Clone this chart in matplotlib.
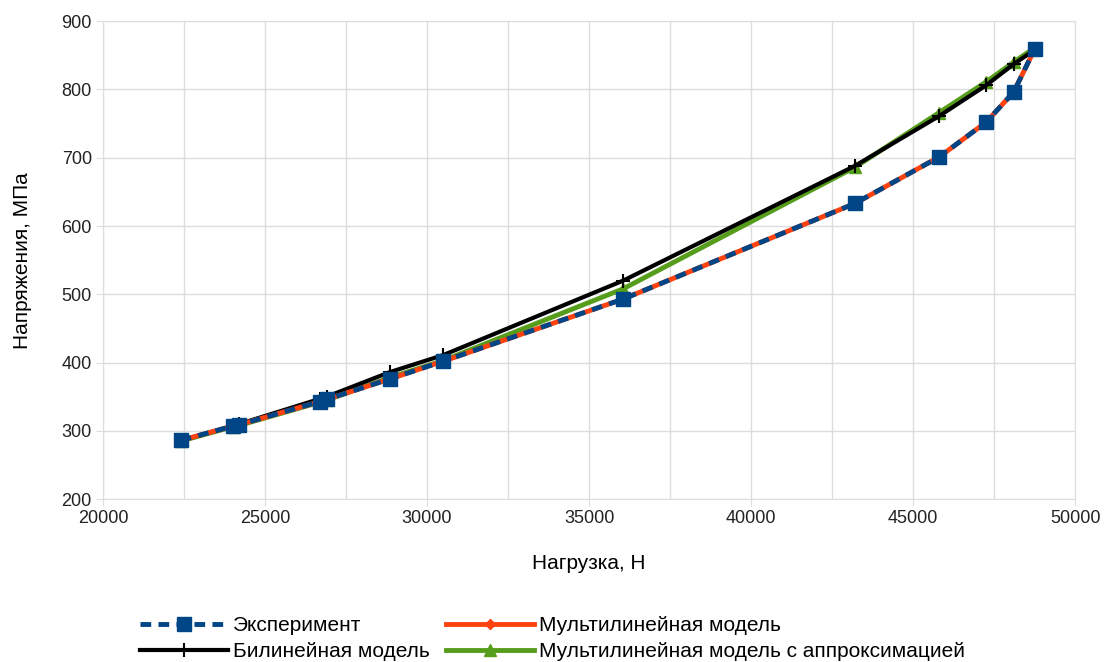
import matplotlib
matplotlib.use("Agg")
import matplotlib.pyplot as plt
from matplotlib.ticker import MultipleLocator

plt.rcParams['font.family'] = ['Liberation Sans', 'DejaVu Sans']

# нагрузка, Н
load = [22400, 24000, 24200, 26700, 26900, 28850, 30500, 36050, 43200, 45800, 47250, 48100, 48750]
# напряжения, МПа
exper = [286, 307, 309, 343, 346, 376, 402, 493, 633, 701, 752, 796, 859]
multi = [286, 307, 309, 343, 346, 376, 402, 493, 633, 701, 752, 796, 859]
bilin = [286, 307, 310, 347, 350, 386, 411, 520, 688, 761, 806, 837, 858]
approx = [285, 306, 308, 342, 345, 378, 403, 508, 686, 766, 811, 840, 861]

fig = plt.figure(figsize=(11.05, 6.62), dpi=100)
ax = fig.add_axes([0.0932, 0.246, 0.8798, 0.722])

ax.plot(load, approx, color='#579d1c', lw=3.5, marker='^', ms=8,
        label='Мультилинейная модель с аппроксимацией', zorder=2)
ax.plot(load, bilin, color='black', lw=3, marker='+', ms=10, mew=1.5,
        label='Билинейная модель', zorder=3)
ax.plot(load, multi, color='#ff420e', lw=3.5, marker='D', ms=5,
        label='Мультилинейная модель', zorder=4)
ax.plot(load, exper, color='#004586', lw=3.5, ls=(0, (2.2, 1.5)), marker='s', ms=10,
        label='Эксперимент', zorder=5)

ax.set_xlim(20000, 50000)
ax.set_ylim(200, 900)
ax.xaxis.set_major_locator(MultipleLocator(5000))
ax.xaxis.set_minor_locator(MultipleLocator(2500))
ax.yaxis.set_major_locator(MultipleLocator(100))
ax.grid(True, which='both', axis='x', color='#dddddd', lw=1)
ax.grid(True, which='major', axis='y', color='#dddddd', lw=1)
ax.set_axisbelow(True)
ax.tick_params(which='major', length=5, color='#dddddd', labelsize=13, pad=3,
               labelcolor='#222222')
ax.tick_params(which='minor', length=0)
for s in ax.spines.values():
    s.set_color('#dddddd')

ax.set_xlabel('Нагрузка, Н', fontsize=15, labelpad=19)
ax.set_ylabel('Напряжения, МПа', fontsize=15, labelpad=21)

h, l = ax.get_legend_handles_labels()
order = [3, 1, 2, 0]
fig.legend([h[i] for i in order], [l[i] for i in order], ncol=2,
           loc='lower center', bbox_to_anchor=(0.5, -0.027), frameon=False,
           fontsize=15, handlelength=4.2, columnspacing=0.8, handletextpad=0.25,
           labelspacing=0.35)

fig.savefig('out.png', dpi=100)
